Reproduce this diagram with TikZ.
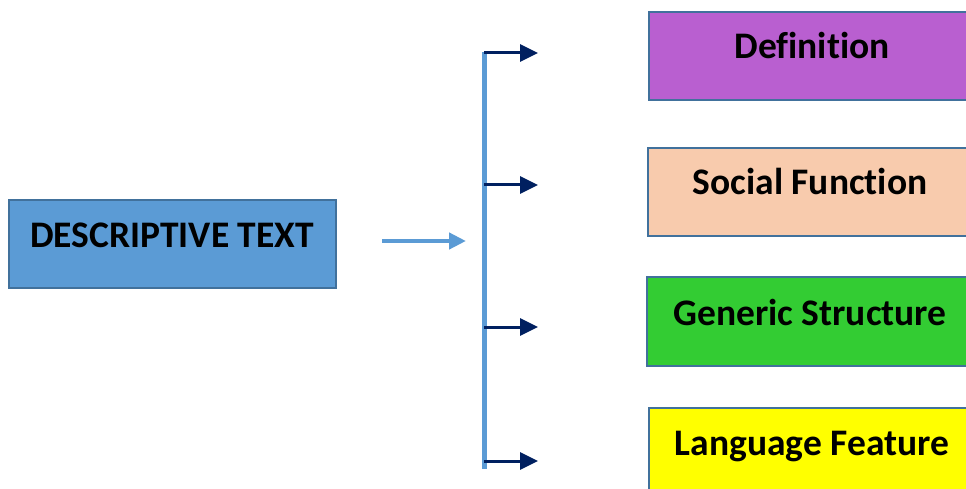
\documentclass[tikz,border=0pt]{standalone}
\usepackage{fontspec}
\setmainfont{Carlito}[RawFeature={-liga;-clig;-dlig}]
\usetikzlibrary{arrows.meta}
\definecolor{mainblue}{HTML}{5B9BD5}
\definecolor{edgeblue}{HTML}{41719C}
\definecolor{navy}{HTML}{002060}
\definecolor{cpurple}{HTML}{B95FD0}
\definecolor{cpeach}{HTML}{F8CBAD}
\definecolor{cgreen}{HTML}{33CC33}
\definecolor{cyellow}{HTML}{FFFF00}
\tikzset{
  box/.style={draw=edgeblue, line width=2pt, anchor=north west, inner sep=0pt, outer sep=0pt},
  lbl/.style={anchor=base, inner sep=0pt, font=\fontsize{37.5}{42}\selectfont\bfseries},
  navyarrow/.style={draw=navy, line width=3pt, -{Triangle[length=18pt,width=17pt]}},
  bluearrow/.style={draw=mainblue, line width=4.5pt, -{Triangle[length=17pt,width=16pt]}},
  spine/.style={draw=mainblue, line width=5pt}
}
\begin{document}
\begin{tikzpicture}[x=1pt,y=-1pt]
\useasboundingbox (0,0) rectangle (966,489);
\begin{scope}
\clip (0,0) rectangle (966,489);
% boxes
\node[box, fill=mainblue, minimum width=327pt, minimum height=88pt] (desc) at (9,200) {};
\node[box, fill=cpurple, minimum width=330pt, minimum height=88pt] (def) at (649,12) {};
\node[box, fill=cpeach, minimum width=330pt, minimum height=88pt] (soc) at (648,148) {};
\node[box, fill=cgreen, minimum width=330pt, minimum height=89pt] (gen) at (647,277) {};
\node[box, fill=cyellow, minimum width=330pt, minimum height=100pt] (lang) at (649,408) {};
\end{scope}
% labels
\node[lbl] (tdesc) at (172,247) {DESCRIPTIVE TEXT};
\node[lbl] (tdef) at (812,59) {Definition};
\node[lbl] (tsoc) at (810,195) {Social Function};
\node[lbl] (tgen) at (810,325) {Generic Structure};
\node[lbl] (tlang) at (812,455) {Language Feature};
% spine
\coordinate (stop) at (484,52);
\coordinate (sbot) at (484,469);
\draw[spine] (stop) -- (sbot);
% input arrow
\coordinate (ina) at (382,241);
\coordinate (inb) at (466,241);
\draw[bluearrow] (ina) -- (inb);
% branch arrows
\coordinate (b1) at (484,53);  \coordinate (e1) at (538,53);
\coordinate (b2) at (484,185); \coordinate (e2) at (538,185);
\coordinate (b3) at (484,327); \coordinate (e3) at (538,327);
\coordinate (b4) at (484,461); \coordinate (e4) at (538,461);
\draw[navyarrow] (b1) -- (e1);
\draw[navyarrow] (b2) -- (e2);
\draw[navyarrow] (b3) -- (e3);
\draw[navyarrow] (b4) -- (e4);
\end{tikzpicture}
\end{document}
